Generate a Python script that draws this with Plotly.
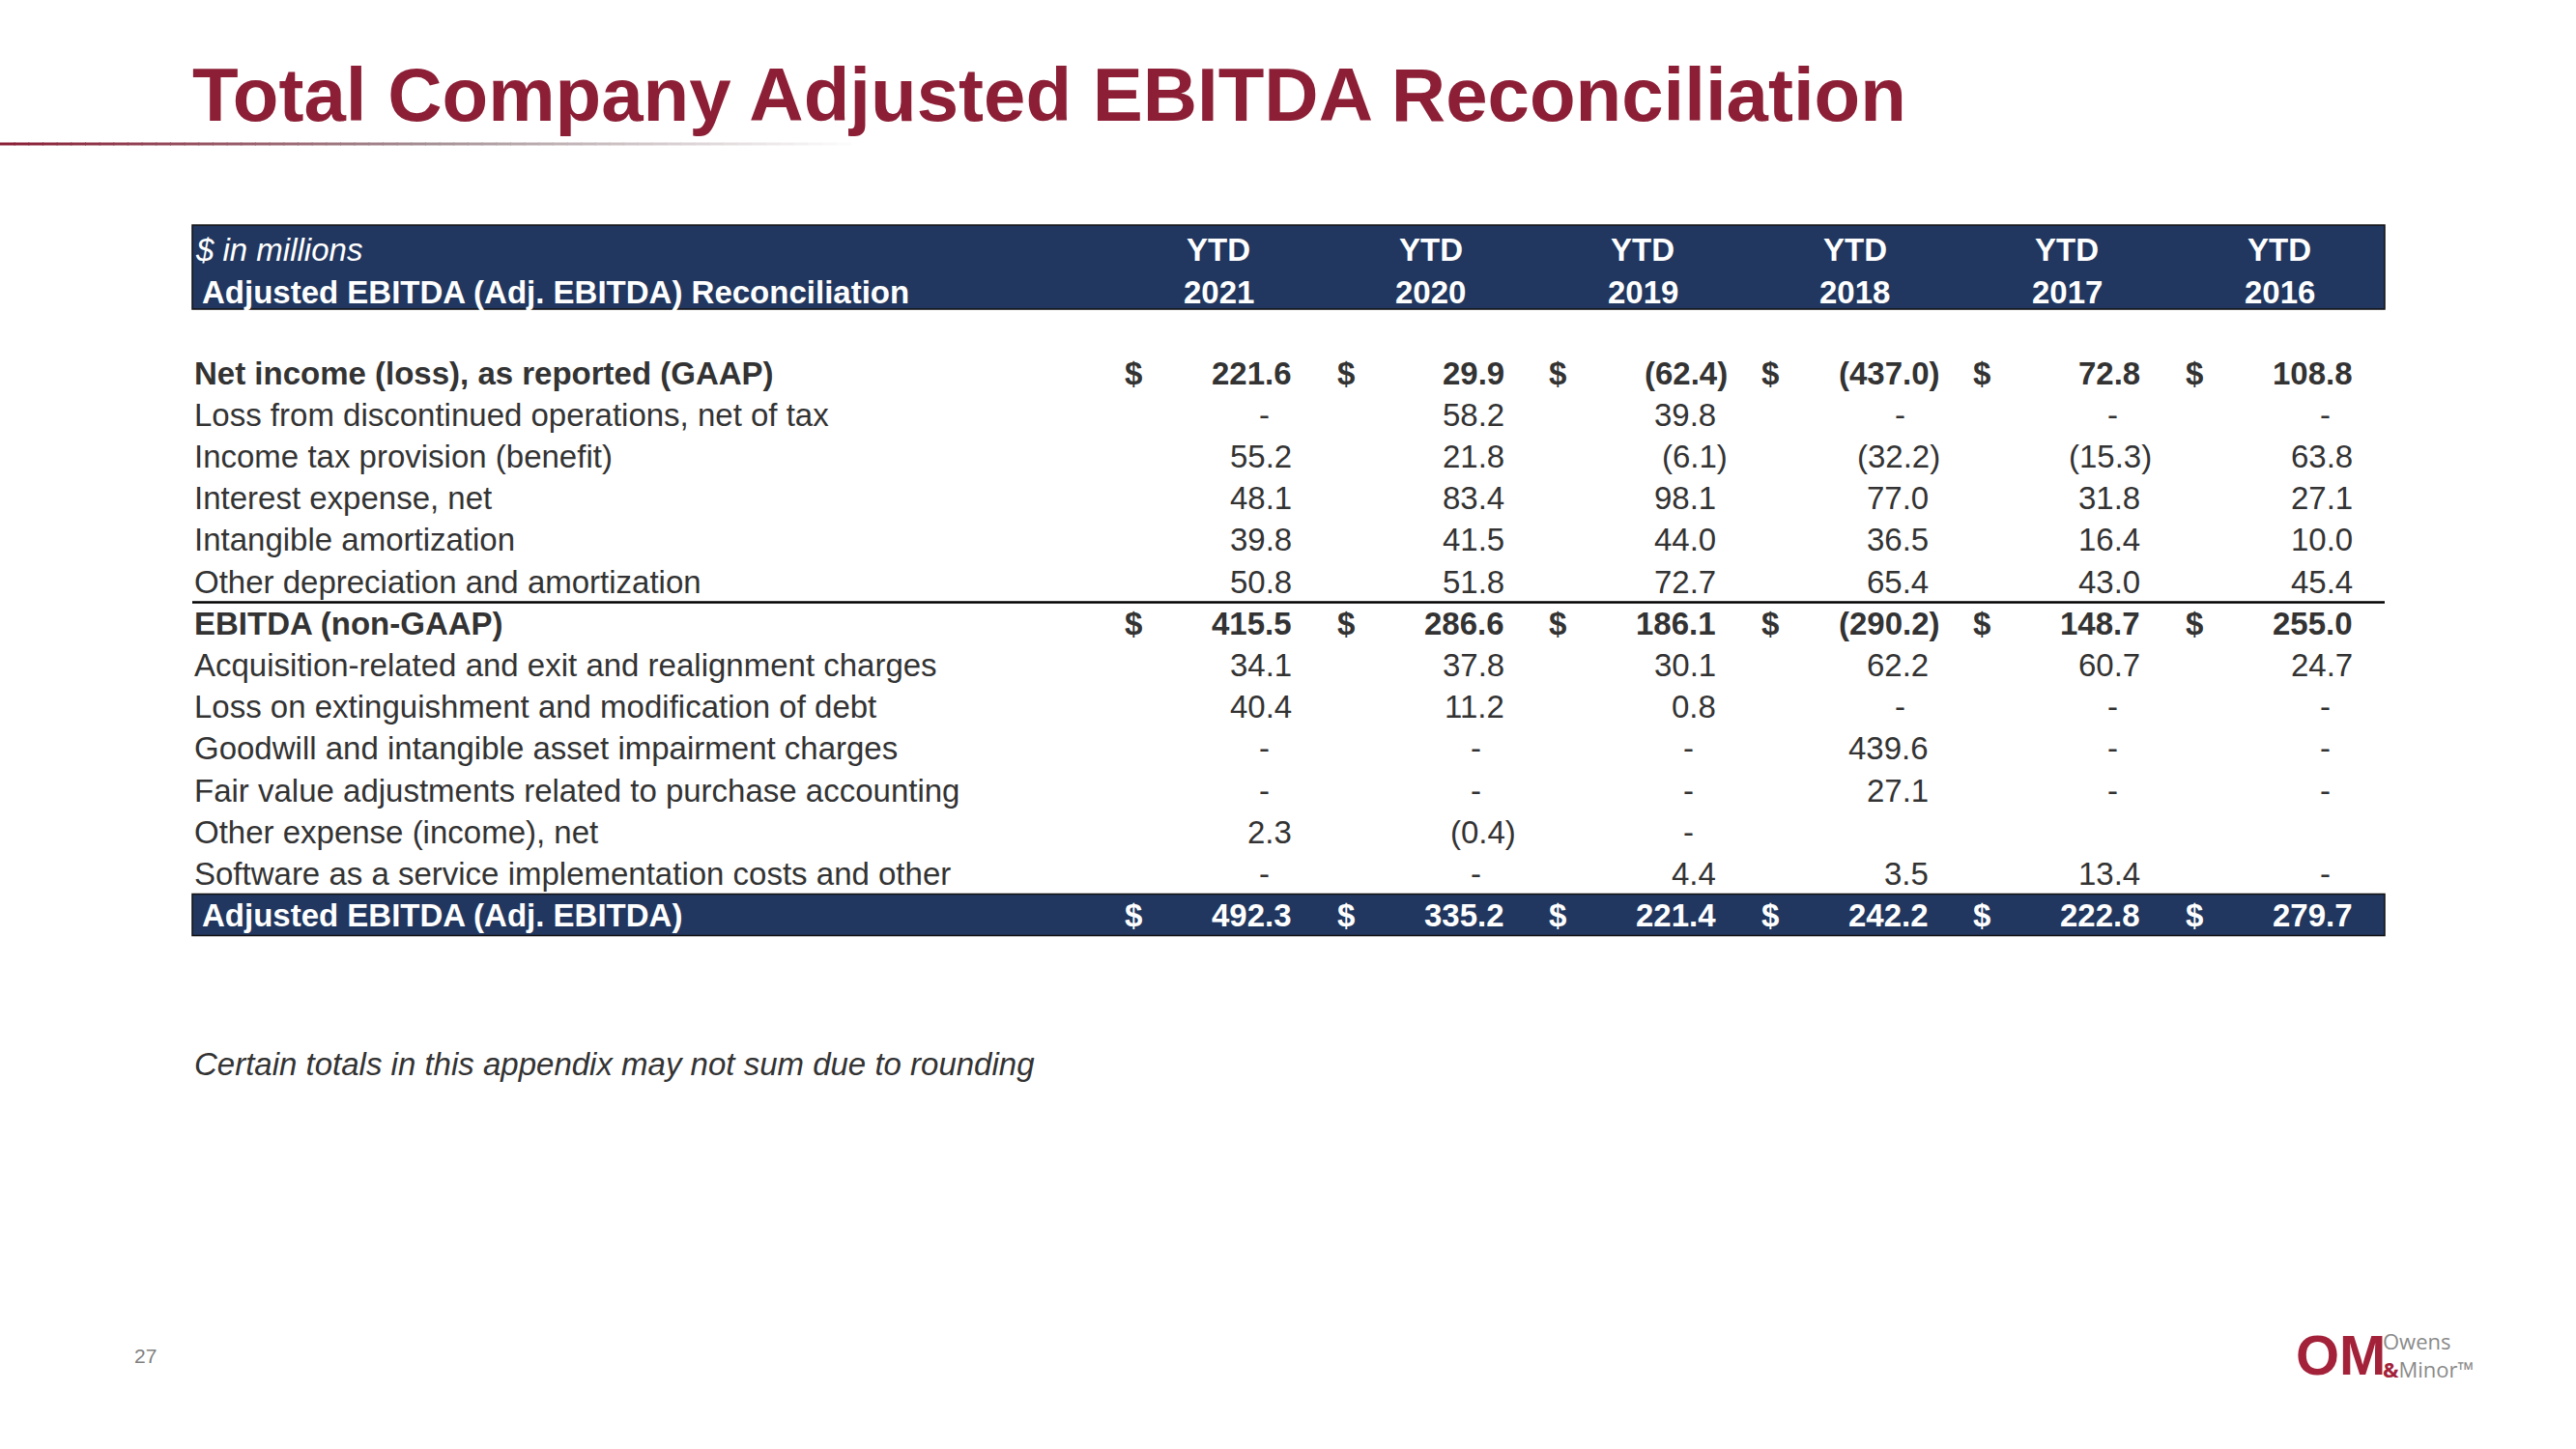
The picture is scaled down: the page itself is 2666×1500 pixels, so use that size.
import plotly.graph_objects as go

# ---------------- data ----------------
years = ["2021", "2020", "2019", "2018", "2017", "2016"]
row_labels = [
    "Net income (loss), as reported (GAAP)",
    "Loss from discontinued operations, net of tax",
    "Income tax provision (benefit)",
    "Interest expense, net",
    "Intangible amortization",
    "Other depreciation and amortization",
    "EBITDA (non-GAAP)",
    "Acquisition-related and exit and realignment charges",
    "Loss on extinguishment and modification of debt",
    "Goodwill and intangible asset impairment charges",
    "Fair value adjustments related to purchase accounting",
    "Other expense (income), net",
    "Software as a service implementation costs and other",
    "Adjusted EBITDA (Adj. EBITDA)",
]
net_income = [221.6, 29.9, -62.4, -437.0, 72.8, 108.8]
disc_ops = [0.0, 58.2, 39.8, 0.0, 0.0, 0.0]
income_tax = [55.2, 21.8, -6.1, -32.2, -15.3, 63.8]
interest = [48.1, 83.4, 98.1, 77.0, 31.8, 27.1]
intangible = [39.8, 41.5, 44.0, 36.5, 16.4, 10.0]
other_dep = [50.8, 51.8, 72.7, 65.4, 43.0, 45.4]
ebitda = [415.5, 286.6, 186.1, -290.2, 148.7, 255.0]
acquisition = [34.1, 37.8, 30.1, 62.2, 60.7, 24.7]
loss_extinguish = [40.4, 11.2, 0.8, 0.0, 0.0, 0.0]
goodwill = [0.0, 0.0, 0.0, 439.6, 0.0, 0.0]
fair_value = [0.0, 0.0, 0.0, 27.1, 0.0, 0.0]
other_expense = [2.3, -0.4, 0.0, None, None, None]
saas = [0.0, 0.0, 4.4, 3.5, 13.4, 0.0]
adj_ebitda = [492.3, 335.2, 221.4, 242.2, 222.8, 279.7]

rows = [net_income, disc_ops, income_tax, interest, intangible, other_dep,
        ebitda, acquisition, loss_extinguish, goodwill, fair_value,
        other_expense, saas, adj_ebitda]
dollar_rows = [0, 6, 13]
bold_rows = [0, 6, 13]

title_text = "Total Company Adjusted EBITDA Reconciliation"
header_unit = "$ in millions"
header_label = "Adjusted EBITDA (Adj. EBITDA) Reconciliation"
footnote = "Certain totals in this appendix may not sum due to rounding"
page_no = "27"

# ---------------- style ----------------
FONT = "Liberation Sans, Arial, Helvetica, sans-serif"
RED = "#8C1F36"
NAVY = "#21375F"
TXT = "#333333"
FS = 33

W, H = 2666, 1500
x_label = 199
row_y0, row_dy = 386, 43.2
col_right = [1339 + 219.6 * i for i in range(6)]
col_dollar = [1162 + 219.6 * i for i in range(6)]
paren_w = 12
tbl_x0, tbl_x1 = 199, 2468

fig = go.Figure()

shapes = []
ann = []


def A(x, y, text, size=FS, color=TXT, xanchor="left", yanchor="middle", family=FONT, **kw):
    ann.append(dict(x=x, y=y, xref="x", yref="y", text=text, showarrow=False,
                    xanchor=xanchor, yanchor=yanchor,
                    font=dict(family=family, size=size, color=color), **kw))


# title
A(197, 98, f"<b>{title_text}</b>", size=78, color=RED)

# gradient rule under title
nseg = 60
x_end = 880
for i in range(nseg):
    t = i / nseg
    if t < 0.5:
        u = t / 0.5
        c0, c1 = (139, 31, 54), (165, 145, 150)
    else:
        u = (t - 0.5) / 0.5
        c0, c1 = (165, 145, 150), (255, 255, 255)
    col = tuple(int(c0[k] + (c1[k] - c0[k]) * u) for k in range(3))
    shapes.append(dict(type="line", xref="x", yref="y",
                       x0=x_end * i / nseg, x1=x_end * (i + 1) / nseg + 1, y0=149, y1=149,
                       line=dict(color=f"rgb{col}", width=3)))

# header band
shapes.append(dict(type="rect", xref="x", yref="y", x0=tbl_x0, x1=tbl_x1, y0=233, y1=320,
                   fillcolor=NAVY, line=dict(color="#111111", width=1.5), layer="below"))
A(x_label + 1, 258, f"<i>{header_unit}</i>", color="white")
A(x_label + 8, 302, f"<b>{header_label}</b>", color="white")
for i, yr in enumerate(years):
    cx = col_right[i] - 78
    A(cx, 258, "<b>YTD</b>", color="white", xanchor="center")
    A(cx, 302, f"<b>{yr}</b>", color="white", xanchor="center")

# bottom band
last = len(rows) - 1
yb = row_y0 + row_dy * last
shapes.append(dict(type="rect", xref="x", yref="y", x0=tbl_x0, x1=tbl_x1, y0=yb - 22, y1=yb + 21,
                   fillcolor=NAVY, line=dict(color="#111111", width=1.5), layer="below"))

# rule under other depreciation
y_rule = row_y0 + row_dy * 5.5
shapes.append(dict(type="line", xref="x", yref="y", x0=tbl_x0, x1=tbl_x1, y0=y_rule, y1=y_rule,
                   line=dict(color="#000000", width=2.5)))


def fmt(v):
    if v is None:
        return None
    if v == 0:
        return "-"
    if v < 0:
        return f"({abs(v):.1f})"
    return f"{v:.1f}"


for r, (lab, vals) in enumerate(zip(row_labels, rows)):
    y = row_y0 + row_dy * r
    is_band = (r == last)
    color = "white" if is_band else TXT
    bold = r in bold_rows
    lx = x_label + 8 if is_band else x_label
    A(lx, y, f"<b>{lab}</b>" if bold else lab, color=color)
    for i, v in enumerate(vals):
        s = fmt(v)
        if r in dollar_rows:
            A(col_dollar[i], y, "<b>$</b>", color=color)
        if s is None:
            continue
        txt = f"<b>{s}</b>" if bold else s
        if s == "-":
            A(col_right[i] - 31, y, txt, color=color, xanchor="center")
        elif v < 0:
            A(col_right[i] + paren_w, y, txt, color=color, xanchor="right")
        else:
            A(col_right[i], y, txt, color=color, xanchor="right")

# footnote
A(199, 1101, f"<i>{footnote}</i>", color=TXT)

# page number
A(150, 1403, page_no, size=21, color="#808080", xanchor="center")

# logo
LOGO_RED = "#A3223A"
A(2422, 1402, "<b>OM</b>", size=58, color=LOGO_RED, xanchor="center")
for yy in (1399, 1404, 1408):
    shapes.append(dict(type="line", xref="x", yref="y", x0=2384, x1=2440, y0=yy, y1=yy,
                       line=dict(color="white", width=1.2)))
A(2464, 1402, f"Owens<br><span style='color:{LOGO_RED}'><b>&amp;</b></span>Minor™", size=22,
  color="#8A8A8A", family="Open Sans, Liberation Sans, sans-serif", align="left")

fig.update_layout(
    width=W, height=H,
    margin=dict(l=0, r=0, t=0, b=0),
    paper_bgcolor="white", plot_bgcolor="white",
    xaxis=dict(range=[0, W], visible=False, fixedrange=True),
    yaxis=dict(range=[H, 0], visible=False, fixedrange=True),
    shapes=shapes, annotations=ann, showlegend=False,
)
fig.write_html("out.html", config={"displayModeBar": False},
               post_script="document.body.style.margin='0';document.body.style.overflow='hidden';")
